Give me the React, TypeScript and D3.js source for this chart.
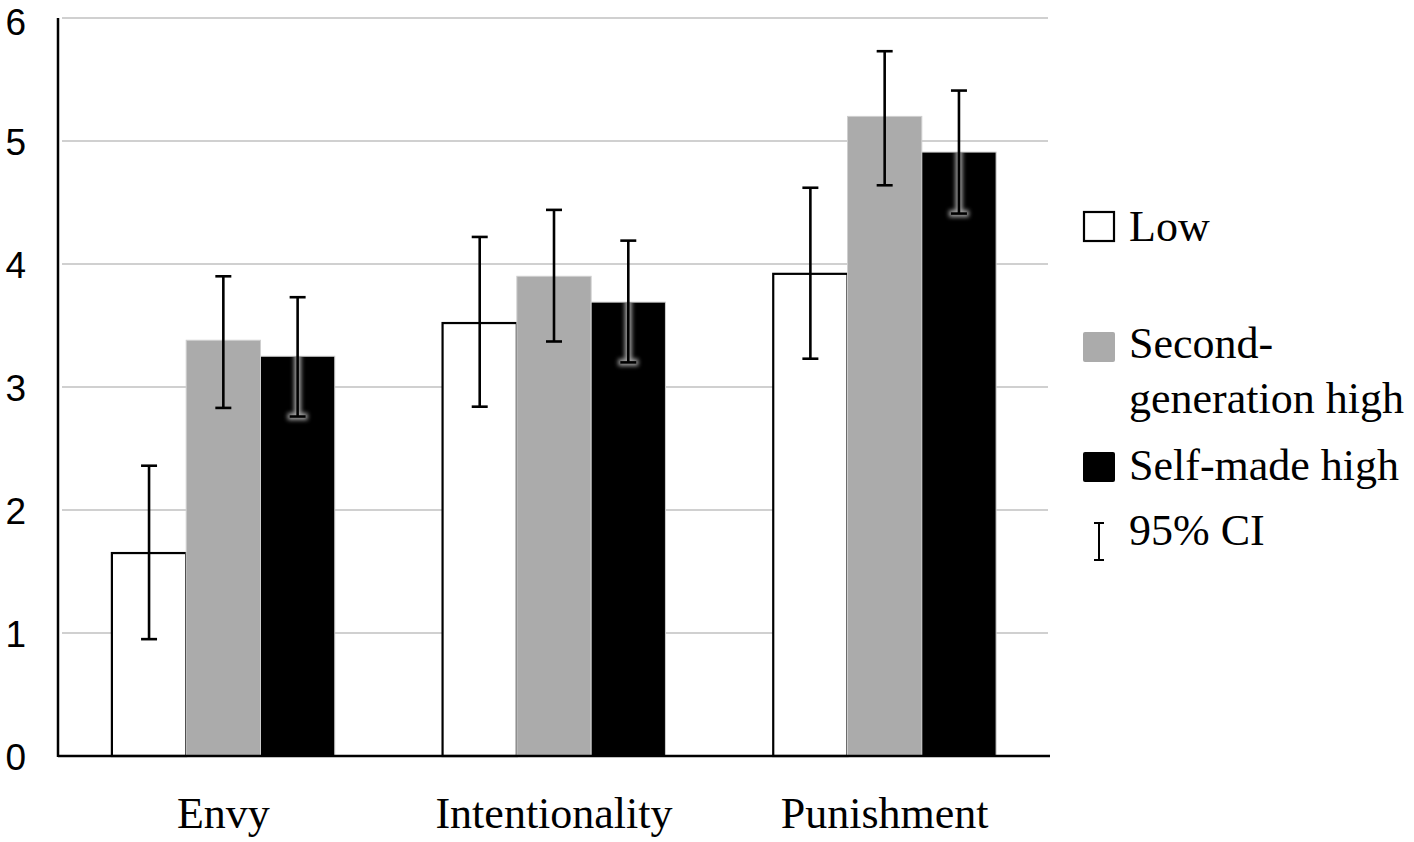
import { useMemo } from 'react'
import * as d3 from 'd3'

// values (means with 95% CI bounds)
const categories = ['Envy', 'Intentionality', 'Punishment']
const seriesKeys = ['low', 'second', 'self']
const lowMeans = [1.65, 3.52, 3.92]
const lowLower = [0.95, 2.84, 3.23]
const lowUpper = [2.36, 4.22, 4.62]
const secondMeans = [3.38, 3.9, 5.2]
const secondLower = [2.83, 3.37, 4.64]
const secondUpper = [3.9, 4.44, 5.73]
const selfMeans = [3.25, 3.69, 4.91]
const selfLower = [2.76, 3.2, 4.41]
const selfUpper = [3.73, 4.19, 5.41]
const yTicks = [0, 1, 2, 3, 4, 5, 6]

const WIDTH = 1414
const HEIGHT = 842
const plot = { left: 58, right: 1050, top: 18, bottom: 756 }

const serif = '"Liberation Serif", "Times New Roman", serif'
const sans = '"Liberation Sans", Arial, sans-serif'

type Bar = {
  key: string
  cat: string
  mean: number
  lo: number
  hi: number
}

const seriesData: Record<string, { means: number[]; lo: number[]; hi: number[] }> = {
  low: { means: lowMeans, lo: lowLower, hi: lowUpper },
  second: { means: secondMeans, lo: secondLower, hi: secondUpper },
  self: { means: selfMeans, lo: selfLower, hi: selfUpper },
}

export default function App() {
  const { x0, x1, y, bars } = useMemo(() => {
    const x0 = d3
      .scaleBand<string>()
      .domain(categories)
      .range([plot.left, plot.right])
      .paddingInner(0.326)
      .paddingOuter(0.163)
    const x1 = d3.scaleBand<string>().domain(seriesKeys).range([0, x0.bandwidth()])
    const y = d3.scaleLinear().domain([0, 6]).range([plot.bottom, plot.top])
    const bars: Bar[] = []
    categories.forEach((cat, i) => {
      seriesKeys.forEach((key) => {
        const s = seriesData[key]
        bars.push({ key, cat, mean: s.means[i], lo: s.lo[i], hi: s.hi[i] })
      })
    })
    return { x0, x1, y, bars }
  }, [])

  const bw = x1.bandwidth()
  const capHalf = 8

  const fillFor = (k: string) => (k === 'low' ? '#ffffff' : k === 'second' ? '#ababab' : '#000000')

  return (
    <div style={{ position: 'fixed', left: 0, top: 0 }}>
      <svg width={WIDTH} height={HEIGHT} style={{ display: 'block', background: '#fff' }}>
        <defs>
          <filter id="glow" x="-200%" y="-20%" width="500%" height="140%">
            <feGaussianBlur stdDeviation="2" />
          </filter>
          {bars
            .filter((b) => b.key === 'self')
            .map((b, i) => (
              <clipPath id={`clip-${i}`} key={i}>
                <rect
                  x={(x0(b.cat) ?? 0) + (x1(b.key) ?? 0)}
                  y={y(b.mean)}
                  width={bw}
                  height={y(0) - y(b.mean)}
                />
              </clipPath>
            ))}
        </defs>

        {/* gridlines */}
        {yTicks
          .filter((t) => t > 0)
          .map((t) => (
            <line key={t} x1={plot.left + 4} x2={plot.right - 2} y1={y(t)} y2={y(t)} stroke="#d0d0d0" strokeWidth={2} />
          ))}

        {/* bars */}
        {bars.map((b, i) => {
          const bx = (x0(b.cat) ?? 0) + (x1(b.key) ?? 0)
          return (
            <rect
              key={i}
              x={bx}
              y={y(b.mean)}
              width={bw}
              height={y(0) - y(b.mean)}
              fill={fillFor(b.key)}
              stroke={b.key === 'low' ? '#000' : '#cfcfcf'}
              strokeWidth={b.key === 'low' ? 2.2 : 1}
            />
          )
        })}

        {/* glow of error bars inside black bars */}
        {bars
          .filter((b) => b.key === 'self')
          .map((b, i) => {
            const cx = (x0(b.cat) ?? 0) + (x1(b.key) ?? 0) + bw / 2
            return (
              <g key={i} clipPath={`url(#clip-${i})`}>
                <g filter="url(#glow)" stroke="#a0a0a0" strokeWidth={7}>
                  <line x1={cx} x2={cx} y1={y(b.hi)} y2={y(b.lo)} />
                  <line x1={cx - capHalf - 2} x2={cx + capHalf + 2} y1={y(b.lo)} y2={y(b.lo)} />
                </g>
              </g>
            )
          })}

        {/* error bars */}
        {bars.map((b, i) => {
          const cx = (x0(b.cat) ?? 0) + (x1(b.key) ?? 0) + bw / 2
          return (
            <g key={i} stroke="#000" strokeWidth={2.6}>
              <line x1={cx} x2={cx} y1={y(b.hi)} y2={y(b.lo)} />
              <line x1={cx - capHalf} x2={cx + capHalf} y1={y(b.hi)} y2={y(b.hi)} />
              <line x1={cx - capHalf} x2={cx + capHalf} y1={y(b.lo)} y2={y(b.lo)} />
            </g>
          )
        })}

        {/* axes */}
        <line x1={plot.left} x2={plot.left} y1={plot.top} y2={plot.bottom + 1} stroke="#000" strokeWidth={2.5} />
        <line x1={plot.left} x2={plot.right} y1={plot.bottom} y2={plot.bottom} stroke="#000" strokeWidth={2.5} />

        {yTicks.map((t) => (
          <text
            key={t}
            x={26}
            y={Math.max(y(t) + 14, 35)}
            textAnchor="end"
            fontFamily={sans}
            fontSize={37}
            fill="#000"
          >
            {t}
          </text>
        ))}

        {categories.map((c) => (
          <text
            key={c}
            x={(x0(c) ?? 0) + x0.bandwidth() / 2}
            y={828}
            textAnchor="middle"
            fontFamily={serif}
            fontSize={44}
            fill="#000"
          >
            {c}
          </text>
        ))}

        {/* legend */}
        <g fontFamily={serif} fontSize={44} fill="#000">
          <rect x={1084} y={212} width={30} height={29} fill="#fff" stroke="#000" strokeWidth={2.2} />
          <text x={1129} y={241}>Low</text>

          <rect x={1083} y={332} width={32} height={30} rx={2} fill="#ababab" />
          <text x={1129} y={358}>Second-</text>
          <text x={1129} y={413}>generation high</text>

          <rect x={1083} y={452} width={32} height={30} rx={2} fill="#000" />
          <text x={1129} y={480}>Self-made high</text>

          <g stroke="#000" strokeWidth={2}>
            <line x1={1099} x2={1099} y1={523} y2={560} />
            <line x1={1094} x2={1104} y1={523} y2={523} />
            <line x1={1094} x2={1104} y1={560} y2={560} />
          </g>
          <text x={1129} y={545}>95% CI</text>
        </g>
      </svg>
    </div>
  )
}
